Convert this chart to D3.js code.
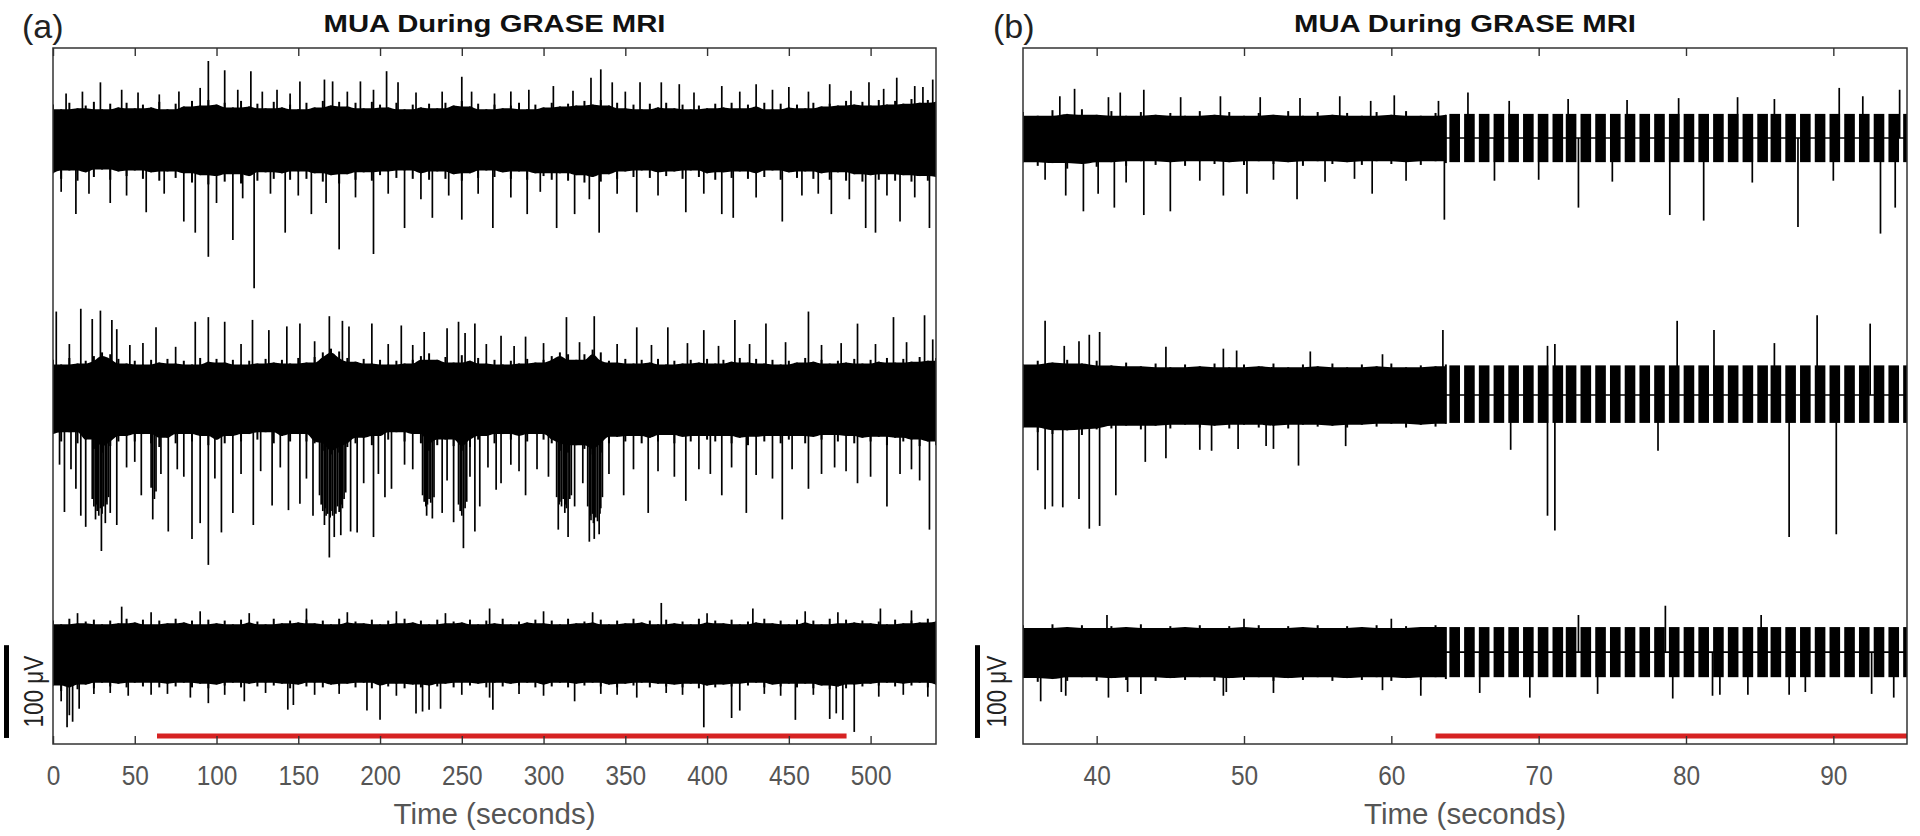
<!DOCTYPE html>
<html>
<head>
<meta charset="utf-8">
<script src="https://cdn.jsdelivr.net/npm/d3@7/dist/d3.min.js"></script>
<style>
  body { margin: 0; background: #fff; }
  text { font-family: "Liberation Sans", Arial, sans-serif; }
</style>
</head>
<body>
<div id="chart"></div>
<script>
// ---- data (microvolts, seconds) ----
const panelLabels = ["(a)", "(b)"];
const titles = ["MUA During GRASE MRI", "MUA During GRASE MRI"];
const xLabel = "Time (seconds)";
const scaleLabel = "100 \u03bcV";
const xDomainA = [0, 540];
const xDomainB = [35, 95];
const ticksA = [0, 50, 100, 150, 200, 250, 300, 350, 400, 450, 500];
const ticksB = [40, 50, 60, 70, 80, 90];
const yDomain = [-99, 651];
const traceOffsets = [554, 277, 0];
const scaleBar = [-92.5, 7.5];
const stimA = [63.6, 485.3];
const stimB = [63.0, 95];

// outer extent of the dense multi-unit activity, read every 5 s in (a)
const envTimesA = [0,5,10,15,20,25,30,35,40,45,50,55,60,65,70,75,80,85,90,95,100,105,110,115,120,125,130,135,140,145,
  150,155,160,165,170,175,180,185,190,195,200,205,210,215,220,225,230,235,240,245,250,255,260,265,270,275,280,285,290,
  295,300,305,310,315,320,325,330,335,340,345,350,355,360,365,370,375,380,385,390,395,400,405,410,415,420,425,430,435,
  440,445,450,455,460,465,470,475,480,485,490,495,500,505,510,515,520,525,530,535,540];
const topA1 = [36,31,38,32,35,39,31,37,33,38,32, 36,33,39,31,37,34,40,35,41,36, 38,33,40,34,37,32,39,33,36,31,
  38,33,40,35,39,34,38,32,39,36, 33,38,31,36,33,37,32,38,35,40, 34,37,31,36,32,35,38,31,36,33, 38,34,37,35,40,36,41,35,38,32,
  36,31,37,33,38,32,36,31,35,32, 37,33,38,32,36,34,38,31,37,33, 36,32,38,34,37,35,40,36,39,35, 41,36,40,37,42,38,41,39];
const botA1 = [-38,-44,-35,-46,-37,-42,-34,-45,-36,-41,-35, -44,-37,-46,-36,-43,-38,-48,-40,-50,-41,
  -47,-39,-49,-41,-46,-37,-44,-38,-45,-36, -44,-38,-47,-40,-49,-39,-45,-37,-46,-40, -36,-43,-35,-44,-38,-45,-36,-44,-39,-46,
  -38,-43,-35,-42,-37,-44,-36,-45,-38,-41, -45,-38,-46,-40,-48,-42,-47,-39,-44,-36, -42,-35,-43,-37,-41,-36,-44,-35,-42,-38,
  -45,-37,-43,-36,-44,-38,-42,-35,-45,-37, -43,-36,-44,-38,-45,-37,-46,-39,-47,-40, -45,-39,-46,-40,-47,-41,-46,-42];
const topA2 = [38,33,40,34,37,42,46,44,39,34,37, 33,38,35,39,34,37,33,40,36,39, 35,38,33,37,34,39,35,38,34,40,
  35,41,46,50,47,40,36,39,34,38, 33,37,34,38,42,45,38,41,35,43, 37,40,34,38,33,37,34,39,35,38, 42,46,44,38,44,49,46,37,35,39,
  34,38,35,39,33,37,34,38,35,39, 34,38,36,40,35,39,34,38,33,37, 35,40,36,38,34,37,35,39,34,38, 36,40,35,39,36,41,37,40];
const botA2 = [-42,-50,-40,-52,-48,-58,-62,-55,-50,-44,-50, -42,-52,-56,-46,-52,-42,-50,-44,-54,-48,
  -52,-44,-50,-42,-48,-40,-52,-44,-50,-42, -50,-52,-60,-64,-62,-56,-52,-46,-54,-44, -48,-40,-50,-42,-52,-60,-54,-48,-55,-60,
  -56,-48,-44,-52,-42,-48,-44,-50,-42,-48, -52,-60,-62,-54,-58,-64,-62,-52,-45,-50, -44,-52,-46,-50,-43,-52,-45,-50,-44,-48,
  -50,-44,-52,-46,-54,-45,-50,-44,-52,-48, -44,-52,-45,-48,-43,-50,-44,-52,-46,-50, -45,-54,-46,-50,-48,-55,-50,-54];
const topA3 = [34,30,36,31,33,35,30,34,31,36,32, 35,30,34,31,36,32,34,30,35,31, 34,30,35,32,33,30,36,31,34,32,
  35,31,34,30,36,32,33,31,35,30, 34,31,36,32,34,30,35,31,33,32, 35,30,34,31,36,30,33,32,35,31, 34,30,36,31,33,32,35,30,34,31,
  36,32,34,30,35,31,33,30,36,32, 34,31,35,30,33,32,36,31,34,30, 35,32,34,30,36,31,35,32,34,31, 33,30,35,31,34,32,36,33];
const botA3 = [-36,-42,-38,-40,-35,-39,-33,-37,-34,-38,-33, -37,-33,-38,-34,-37,-33,-38,-34,-39,-35,
  -36,-33,-38,-34,-37,-33,-36,-34,-39,-35, -37,-33,-38,-35,-36,-34,-38,-33,-39,-36, -37,-34,-39,-35,-38,-36,-37,-34,-38,-33,
  -36,-34,-38,-33,-37,-34,-36,-33,-38,-35, -37,-33,-38,-34,-36,-33,-37,-35,-38,-34, -36,-33,-38,-34,-37,-35,-38,-34,-39,-36,
  -38,-35,-37,-34,-36,-33,-38,-35,-37,-34, -38,-34,-39,-36,-40,-37,-39,-35,-37,-34, -36,-33,-37,-34,-36,-33,-38,-35];

// (b) before the imaging artifact, read every 1 s
const envTimesB = [35,36,37,38,39,40,41,42,43,44,45,46,47,48,49,50,51,52,53,54,55,56,57,58,59,60,61,62,63,63.7];
const topB1 = [28,24,30,26,31,25,29,24,28,25,27,24,29,25,28,24,27,25,29,24,28,25,27,24,28,25,29,24,27,25];
const botB1 = [-26,-30,-27,-33,-28,-31,-26,-30,-25,-29,-26,-30,-25,-28,-26,-29,-25,-28,-26,-30,-25,-28,-26,-29,-25,-28,-26,-29,-25,-27];
const topB2 = [33,37,35,38,34,37,32,35,31,34,30,33,31,34,30,33,31,34,30,33,31,34,30,33,31,34,30,32,31,33];
const botB2 = [-35,-40,-42,-38,-43,-37,-36,-33,-37,-33,-36,-32,-35,-33,-36,-32,-35,-33,-36,-32,-34,-33,-35,-32,-34,-31,-35,-32,-34,-31];
const topB3 = [29,26,30,27,29,26,28,27,30,26,28,27,29,26,28,27,29,26,28,27,29,26,28,27,29,26,28,27,29,27];
const botB3 = [-28,-32,-29,-31,-27,-31,-28,-30,-27,-31,-28,-30,-27,-31,-28,-30,-27,-31,-28,-30,-27,-31,-28,-30,-27,-31,-28,-30,-27,-29];

// gradient-artifact bursts in (b): burst centres (s), burst length, per-trace envelope
const burstCentersB = [64.3, 65.3, 66.3, 67.3, 68.3, 69.3, 70.3, 71.3, 72.2, 73.2, 74.2, 75.2, 76.2, 77.2, 78.2, 79.2,
  80.2, 81.2, 82.2, 83.2, 84.2, 85.2, 86.1, 87.1, 88.1, 89.1, 90.1, 91.1, 92.1, 93.1, 94.1, 95.1];
const burstLength = 0.72;
const burstEnvB = [[26, -26], [32, -30], [27, -27]];
const artifactStart = 63.7;

// spikes: [time, amplitude]
const spikesA1 = [[29,60],[42,52],[65,47],[90,54],[95,83],[105,73],[121,72],[137,52],[151,61],[166,63],[171,61],[188,61],
  [204,72],[211,60],[250,66],[256,50],[291,52],[306,56],[329,65],[335,74],[342,60],[359,60],[372,60],[383,58],[409,56],
  [430,58],[450,55],[475,58],[499,60],[516,65],[527,56],[538,63],
  [8,48],[18,50],[52,49],[77,50],[113,52],[128,50],[145,48],[180,50],[196,52],[222,49],[238,50],[270,48],[280,50],[318,51],
  [350,50],[392,49],[420,50],[440,52],[462,50],[488,51],[508,53],[532,55],
  [14,-82],[35,-70],[57,-80],[80,-90],[87,-102],[95,-128],[110,-110],[123,-162],[142,-102],[158,-82],[175,-120],[196,-125],
  [215,-97],[232,-86],[250,-88],[269,-97],[290,-82],[308,-97],[319,-82],[334,-102],[357,-80],[387,-80],[409,-82],[416,-86],
  [446,-90],[476,-82],[497,-97],[503,-102],[518,-90],[536,-97],
  [5,-58],[22,-60],[45,-62],[68,-60],[100,-70],[116,-65],[133,-60],[150,-62],[167,-70],[185,-64],[205,-60],[225,-66],
  [242,-62],[260,-60],[280,-64],[298,-58],[328,-66],[345,-60],[370,-62],[398,-60],[430,-64],[458,-62],[468,-60],[487,-66],
  [510,-62],[527,-64]];
const spikesA2 = [[2,90],[17,93],[24,82],[29,91],[36,81],[39,71],[63,73],[87,79],[95,84],[105,79],[122,81],[132,70],[143,74],
  [151,77],[169,85],[177,80],[181,74],[195,77],[213,75],[227,68],[241,72],[248,79],[252,67],[258,77],[274,64],[289,63],
  [314,84],[331,85],[357,73],[376,73],[398,70],[417,81],[436,77],[462,90],[492,77],[514,84],[533,86],
  [10,55],[47,54],[55,56],[75,52],[115,55],[160,58],[205,55],[220,54],[265,55],[282,53],[300,56],[322,57],[345,55],[366,54],
  [388,56],[407,53],[426,55],[448,57],[470,54],[482,56],[503,55],[522,57],[538,60],
  [7,-126],[14,-101],[17,-130],[20,-142],[26,-134],[29.6,-168],[32,-138],[35,-127],[39,-140],[54,-108],[61,-134],[70.5,-147],
  [85,-155],[90,-138],[95,-183],[103,-148],[110,-127],[122.5,-140],[134,-119],[144,-124],[151,-117],[159,-130],[166,-140],
  [169,-175],[172,-153],[176,-151],[182,-147],[186,-148],[196,-153],[203,-110],[207,-101],[228.5,-130],[232,-133],[238,-127],
  [245,-137],[251,-165],[258,-147],[261,-120],[271,-102],[274,-95],[289,-108],[309,-145],[313,-127],[315,-153],[319,-120],
  [328,-158],[331,-155],[334,-150],[349,-108],[364,-127],[387,-114],[409,-108],[424,-127],[446,-134],[462,-101],[492,-95],
  [510,-120],[536,-145],
  [4,-75],[11,-80],[45,-78],[50,-72],[66,-85],[76,-80],[80,-88],[99,-90],[115,-85],[127,-82],[139,-78],[155,-90],[190,-95],
  [199,-85],[215,-75],[220,-80],[241,-92],[255,-88],[266,-78],[280,-75],[285,-82],[296,-80],[303,-88],[324,-95],[340,-85],
  [355,-80],[370,-82],[380,-88],[395,-80],[402,-85],[415,-78],[430,-86],[440,-90],[452,-80],[470,-85],[478,-78],[485,-82],
  [500,-88],[518,-85],[525,-80],[530,-92],
  // dense bursts of activity
  [24,-112],[25,-120],[26.5,-118],[27,-125],[28,-130],[29,-122],[30,-128],[31,-120],[32.5,-115],[33,-118],[34,-110],
  [60,-100],[62,-112],[63,-104],
  [163,-108],[164,-118],[165,-125],[166.5,-122],[167,-130],[168,-128],[169.5,-132],[170,-125],[171,-130],[172.5,-122],
  [173,-128],[174,-120],[175,-126],[176.5,-118],[177,-122],[178,-112],[179,-105],
  [226,-108],[227,-115],[228,-120],[229,-118],[230,-112],[231,-116],[233,-110],
  [248,-118],[249,-125],[250,-130],[252,-122],[253,-115],
  [308,-110],[309.5,-118],[310,-115],[311,-120],[312,-112],[313.5,-118],[314,-122],[316,-112],[317,-108],
  [327,-120],[328.5,-130],[329,-135],[330,-128],[330.5,-138],[332,-132],[333,-136],[334.5,-128],[335,-122],[336,-110]];
const spikesA3 = [[5,-53],[8.6,-81],[10,-68],[12,-75],[16,-61],[46,-47],[84,-49],[95,-55],[117,-53],[143.6,-62],[147,-57],
  [192,-63],[200,-73],[222,-66],[226,-64],[230,-62],[237,-61],[267,-49],[269,-62],[319,-53],[357,-49],[398,-81],[415,-71],
  [420,-63],[454,-73],[475,-72],[479,-66],[483,-73],[490,-86],
  [25,-45],[35,-44],[60,-46],[70,-45],[105,-46],[130,-44],[160,-46],[175,-45],[210,-47],[250,-46],[285,-45],[300,-47],
  [335,-45],[345,-46],[375,-44],[385,-46],[435,-45],[445,-47],[465,-46],[505,-48],[520,-46],[535,-48],
  [42,49],[155,47],[267,47],[372,53],[428,47],[506,47],
  [15,42],[60,43],[90,44],[120,42],[180,43],[210,44],[240,42],[300,44],[330,43],[400,42],[460,44],[480,43],[525,45]];

const spikesB1 = [[37.5,45],[38.5,53],[40.8,44],[41.6,49],[43.2,52],[45.7,44],[48.4,45],[51.1,44],[53.8,43],[56.5,45],
  [58.6,40],[60.2,46],[63.2,40],[65.2,49],[68,40],[72,42],[76,41],[79.5,43],[83.5,44],[86,42],[90.4,54],[92,45],[94.5,52],
  [37.9,-62],[39.1,-79],[40.1,-60],[41.2,-75],[43.2,-83],[45,-79],[48.6,-62],[50.2,-60],[53.6,-66],[58.7,-60],[63.6,-88],
  [72.7,-75],[78.9,-83],[81.2,-89],[87.6,-96],[93.2,-103],[94.2,-75],
  [36.5,-45],[42,-48],[47,-46],[52,-45],[55.5,-47],[57.5,-44],[61,-46],[67,-46],[70,-45],[75,-47],[84.5,-48],[90,-46]];
const spikesB2 = [[36.5,80],[37.8,53],[38.8,58],[39.5,65],[40.2,68],[44.7,52],[48.6,50],[49.5,48],[54.5,47],[59.4,44],
  [63.5,70],[70.6,53],[71.1,55],[79.4,80],[81.9,70],[86,56],[88.9,86],[92.5,77],
  [36.0,-81],[36.5,-123],[37.0,-120],[37.7,-121],[38.8,-112],[39.5,-144],[40.2,-141],[41.3,-108],[43.3,-72],[44.7,-68],
  [47.0,-59],[47.8,-60],[49.6,-58],[51.5,-55],[52.0,-58],[53.7,-76],[56.9,-55],[68.1,-59],[70.6,-130],[71.1,-146],
  [78.1,-60],[87.0,-153],[90.2,-150]];
const spikesB3 = [[40.7,40],[50,36],[60,36],[72.7,40],[78.6,50],[85.1,40],
  [36.2,-53],[37.6,-43],[37.9,-47],[40.8,-49],[42.1,-43],[43,-45],[48.6,-47],[48.8,-43],[52,-44],[59.4,-41],[62.0,-47],
  [66,-44],[69.4,-49],[74,-45],[79.1,-50],[81.8,-47],[82.3,-46],[84.2,-46],[87,-46],[88.1,-43],[92.6,-45],[94.1,-49]];

// ---- layout ----
const W = 1920, H = 836;
const plotTop = 48, plotBottom = 744;
const fontFamily = '"Liberation Sans", Arial, sans-serif';

const svg = d3.select("#chart").append("svg")
    .attr("width", W)
    .attr("height", H);

const toEnv = (times, top, bot) => times.map((t, i) => [t, top[i], bot[i]]);

// solid core of the band: the tightest extent among neighbouring readings
const coreOf = env => env.map((d, i) => {
    const nb = env.slice(Math.max(0, i - 1), i + 2);
    return [d[0], d3.min(nb, e => e[1]), d3.max(nb, e => e[2])];
});

const panels = [
  { id: "pa", left: 53, right: 936, xDomain: xDomainA, ticks: ticksA, stim: stimA,
    label: panelLabels[0], labelX: 22, title: titles[0], barX: 6.5, barTextX: 43,
    traces: [{ env: toEnv(envTimesA, topA1, botA1), spikes: spikesA1 },
             { env: toEnv(envTimesA, topA2, botA2), spikes: spikesA2 },
             { env: toEnv(envTimesA, topA3, botA3), spikes: spikesA3 }] },
  { id: "pb", left: 1023, right: 1907, xDomain: xDomainB, ticks: ticksB, stim: stimB,
    label: panelLabels[1], labelX: 993, title: titles[1], barX: 977.5, barTextX: 1006,
    traces: [{ env: toEnv(envTimesB, topB1, botB1), spikes: spikesB1, burst: burstEnvB[0] },
             { env: toEnv(envTimesB, topB2, botB2), spikes: spikesB2, burst: burstEnvB[1] },
             { env: toEnv(envTimesB, topB3, botB3), spikes: spikesB3, burst: burstEnvB[2] }] }
];

const y = d3.scaleLinear().domain(yDomain).range([plotBottom, plotTop]);

panels.forEach(p => drawPanel(p));

function drawPanel(p) {
    const x = d3.scaleLinear().domain(p.xDomain).range([p.left, p.right]);
    const g = svg.append("g");

    g.append("clipPath").attr("id", p.id + "-clip")
      .append("rect")
        .attr("x", p.left).attr("y", plotTop)
        .attr("width", p.right - p.left).attr("height", plotBottom - plotTop);

    const plot = g.append("g").attr("clip-path", `url(#${p.id}-clip)`);

    p.traces.forEach((tr, i) => {
        const off = traceOffsets[i];
        const band = d3.area()
            .x(d => x(d[0]))
            .y0(d => y(off + d[2]))
            .y1(d => y(off + d[1]))
            .curve(d3.curveMonotoneX);

        plot.append("path")
            .datum(coreOf(tr.env))
            .attr("d", band)
            .attr("fill", "#000");

        // fringe: each reading's full extent as a vertical stroke
        plot.selectAll(null)
            .data(tr.env)
            .join("line")
            .attr("x1", d => x(d[0])).attr("x2", d => x(d[0]))
            .attr("y1", d => y(off + d[2])).attr("y2", d => y(off + d[1]))
            .attr("stroke", "#000")
            .attr("stroke-width", 2);

        if (tr.burst) {
            // flat line between bursts
            plot.append("line")
                .attr("x1", x(artifactStart)).attr("x2", x(p.xDomain[1]))
                .attr("y1", y(off)).attr("y2", y(off))
                .attr("stroke", "#000").attr("stroke-width", 1.6);

            plot.selectAll(null)
                .data(burstCentersB)
                .join("rect")
                .attr("x", c => x(c - burstLength / 2))
                .attr("width", c => x(c + burstLength / 2) - x(c - burstLength / 2))
                .attr("y", y(off + tr.burst[0]))
                .attr("height", y(off + tr.burst[1]) - y(off + tr.burst[0]))
                .attr("fill", "#000");
        }

        plot.selectAll(null)
            .data(tr.spikes)
            .join("line")
            .attr("x1", d => x(d[0]))
            .attr("x2", d => x(d[0]))
            .attr("y1", y(off))
            .attr("y2", d => y(off + d[1]))
            .attr("stroke", "#000")
            .attr("stroke-width", 1.7);
    });

    // stimulus bar
    g.append("line")
        .attr("x1", x(p.stim[0])).attr("x2", x(p.stim[1]))
        .attr("y1", plotBottom - 8).attr("y2", plotBottom - 8)
        .attr("stroke", "#d62222")
        .attr("stroke-width", 5);

    // axes (inward ticks, box)
    const xAxis = g.append("g")
        .attr("transform", `translate(0,${plotBottom})`)
        .call(d3.axisBottom(x).tickValues(p.ticks).tickSizeInner(-8).tickSizeOuter(0).tickPadding(22));
    xAxis.select(".domain").remove();
    xAxis.selectAll("line").attr("stroke", "#333").attr("stroke-width", 1.4);
    xAxis.selectAll("text")
        .attr("fill", "#555")
        .style("font-family", fontFamily)
        .style("font-size", "27px")
        .attr("textLength", d => String(d).length * 13.6)
        .attr("lengthAdjust", "spacingAndGlyphs");

    const topAxis = g.append("g")
        .attr("transform", `translate(0,${plotTop})`)
        .call(d3.axisTop(x).tickValues(p.ticks).tickSizeInner(-8).tickSizeOuter(0).tickFormat(() => ""));
    topAxis.select(".domain").remove();
    topAxis.selectAll("line").attr("stroke", "#333").attr("stroke-width", 1.4);

    g.append("rect")
        .attr("x", p.left).attr("y", plotTop)
        .attr("width", p.right - p.left).attr("height", plotBottom - plotTop)
        .attr("fill", "none")
        .attr("stroke", "#333")
        .attr("stroke-width", 1.5);

    // titles and labels
    const cx = (p.left + p.right) / 2;
    g.append("text")
        .attr("x", cx).attr("y", 32)
        .attr("text-anchor", "middle")
        .style("font-size", "24px")
        .style("font-weight", "bold")
        .attr("fill", "#111")
        .attr("textLength", 342)
        .attr("lengthAdjust", "spacingAndGlyphs")
        .text(p.title);

    g.append("text")
        .attr("x", p.labelX).attr("y", 38)
        .style("font-size", "34px")
        .attr("fill", "#222")
        .text(p.label);

    g.append("text")
        .attr("x", cx).attr("y", 824)
        .attr("text-anchor", "middle")
        .style("font-size", "29px")
        .attr("fill", "#555")
        .attr("textLength", 202)
        .attr("lengthAdjust", "spacingAndGlyphs")
        .text(xLabel);

    // 100 uV scale bar
    g.append("line")
        .attr("x1", p.barX).attr("x2", p.barX)
        .attr("y1", y(scaleBar[0])).attr("y2", y(scaleBar[1]))
        .attr("stroke", "#000")
        .attr("stroke-width", 5);

    g.append("text")
        .attr("transform", `translate(${p.barTextX},${(y(scaleBar[0]) + y(scaleBar[1])) / 2}) rotate(-90)`)
        .attr("text-anchor", "middle")
        .style("font-size", "27px")
        .attr("fill", "#222")
        .attr("textLength", 72)
        .attr("lengthAdjust", "spacingAndGlyphs")
        .text(scaleLabel);
}
</script>
</body>
</html>
